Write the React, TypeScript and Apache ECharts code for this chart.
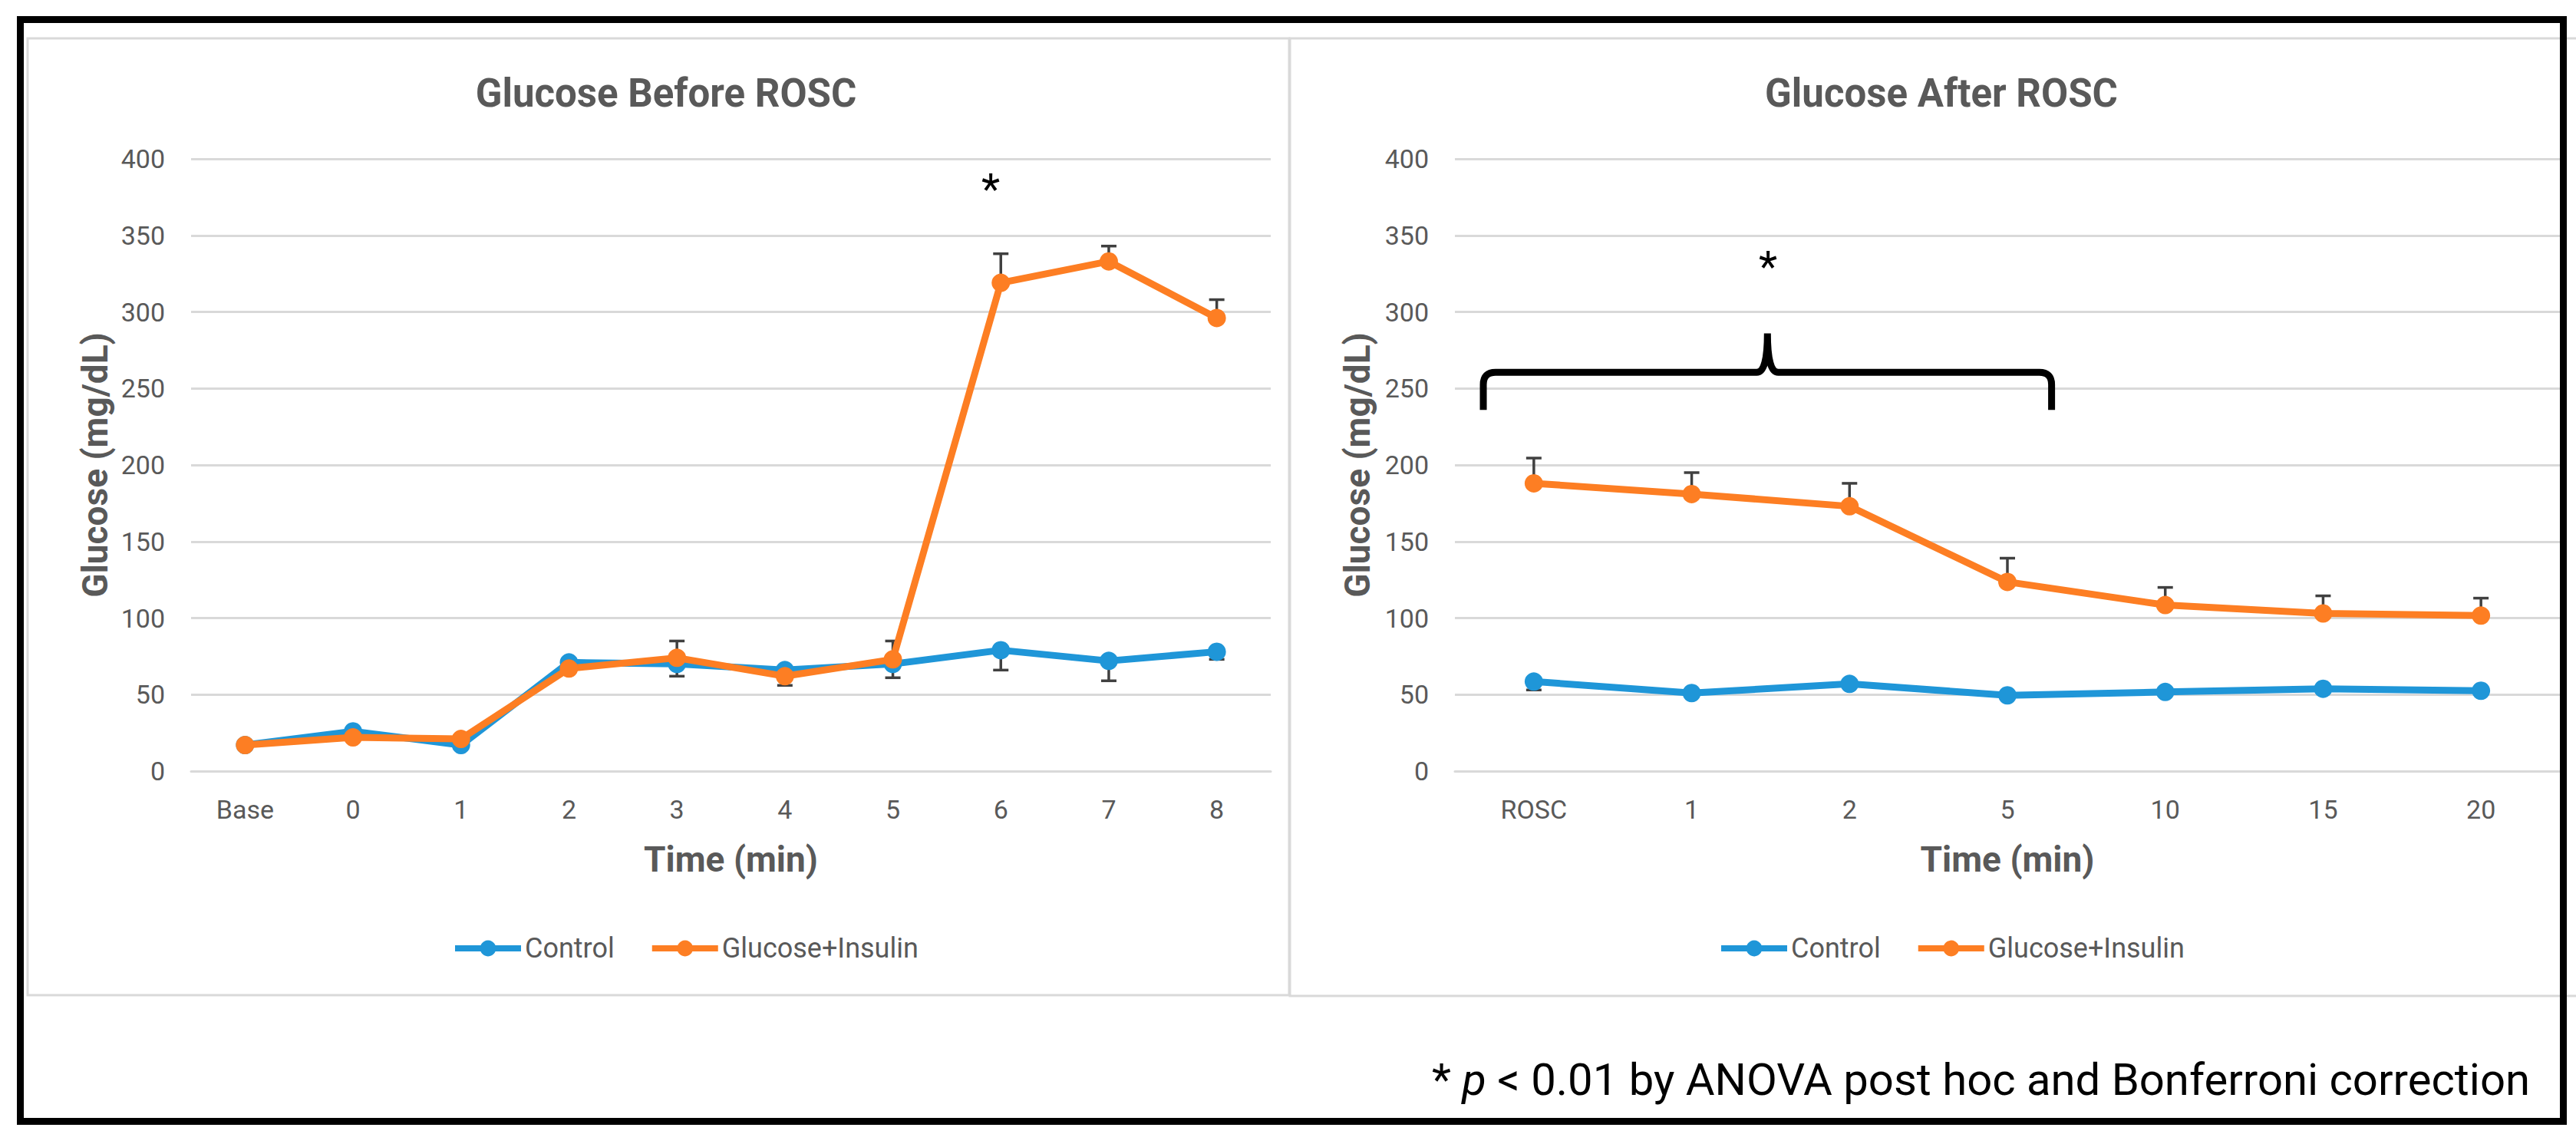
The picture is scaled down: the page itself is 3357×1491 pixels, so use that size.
import React, { useEffect, useRef } from "react";
import * as echarts from "echarts";

// ---- data ----
const beforeCats = ["Base", "0", "1", "2", "3", "4", "5", "6", "7", "8"];
const beforeControl = [17, 26, 17, 71, 70, 66, 70, 79, 72, 78];
const beforeControlErr = [2, 2, 2, 3, 8, 10, 9, 13, 13, 5];
const beforeGI = [17, 22, 21, 67, 74, 62, 73, 319, 333, 296];
const beforeGIErr = [2, 2, 2, 3, 11, 3, 12, 19, 10, 12];

const afterCats = ["ROSC", "1", "2", "5", "10", "15", "20"];
const afterControl = [58.5, 51, 57, 49.5, 51.7, 53.8, 52.5];
const afterControlErr = [5.5, 2, 2, 2, 2, 2, 2];
const afterGI = [188, 181, 173, 123.6, 108.5, 103, 101.6];
const afterGIErr = [16.5, 14, 15, 15.5, 11.5, 11.5, 11.4];

const braceX = [-0.32, 1.48, 3.28]; // left, middle, right (category index units)
const braceY = [236, 260.5, 286]; // leg bottom, bar, peak

const seriesNames = ["Control", "Glucose+Insulin"];
const titles = ["Glucose Before ROSC", "Glucose After ROSC"];
const footnote = " < 0.01 by ANOVA post hoc and Bonferroni correction";

const FONT = "'Roboto', sans-serif";
const GRAY = "#595959";
const GRID = "#d9d9d9";
const BLUE = "#1f96d8";
const ORANGE = "#fd7e23";

function errSeries(idx: number, values: number[], errs: number[], dir: number) {
  return {
    type: "custom",
    name: "err" + idx + dir,
    xAxisIndex: idx,
    yAxisIndex: idx,
    z: 1,
    silent: true,
    data: values.map((v, i) => [i, v, errs[i]]),
    encode: { x: 0, y: 1 },
    renderItem: (params: any, api: any) => {
      const i = api.value(0);
      const v = api.value(1);
      const e = api.value(2);
      const p0 = api.coord([i, v]);
      const p1 = api.coord([i, v + dir * e]);
      const hw = 10;
      const st = { stroke: "#404040", lineWidth: 3.5 };
      return {
        type: "group",
        children: [
          { type: "line", shape: { x1: p0[0], y1: p0[1], x2: p1[0], y2: p1[1] }, style: st },
          { type: "line", shape: { x1: p1[0] - hw, y1: p1[1], x2: p1[0] + hw, y2: p1[1] }, style: st },
        ],
      };
    },
  };
}

function lineSeries(idx: number, name: string, data: number[], color: string, z: number) {
  return {
    type: "line",
    name,
    xAxisIndex: idx,
    yAxisIndex: idx,
    data,
    z,
    symbol: "circle",
    symbolSize: 24,
    lineStyle: { color, width: 9 },
    itemStyle: { color },
  };
}

export default function App() {
  const ref = useRef<HTMLDivElement>(null);
  useEffect(() => {
    document.body.style.margin = "0";
    const chart = echarts.init(ref.current!, undefined, { renderer: "svg" });

    const xAxisBase = (data: string[], gridIndex: number) => ({
      type: "category",
      gridIndex,
      data,
      boundaryGap: true,
      axisTick: { show: false },
      axisLine: { show: true, lineStyle: { color: GRID, width: 3 } },
      axisLabel: { color: GRAY, fontSize: 34, fontFamily: FONT, margin: 33 },
      name: "Time (min)",
      nameLocation: "middle",
      nameGap: 92,
      nameTextStyle: { color: GRAY, fontSize: 46, fontWeight: "bold", fontFamily: FONT },
    });
    const yAxisBase = (gridIndex: number, gap: number) => ({
      type: "value",
      gridIndex,
      min: 0,
      max: 400,
      interval: 50,
      axisLine: { show: false },
      axisTick: { show: false },
      axisLabel: { color: GRAY, fontSize: 34, fontFamily: FONT, margin: 34 },
      splitLine: { lineStyle: { color: GRID, width: 3 } },
      name: "Glucose (mg/dL)",
      nameLocation: "middle",
      nameGap: gap,
      nameTextStyle: { color: GRAY, fontSize: 46, fontWeight: "bold", fontFamily: FONT },
    });

    const braceSeries = {
      type: "custom",
      name: "brace",
      xAxisIndex: 1,
      yAxisIndex: 1,
      silent: true,
      z: 5,
      data: [[0, 0]],
      renderItem: (params: any, api: any) => {
        const a = api.coord([0, braceY[0]]);
        const b = api.coord([1, braceY[1]]);
        const c = api.coord([0, braceY[2]]);
        const step = b[0] - a[0];
        const xl = a[0] + braceX[0] * step;
        const xm = a[0] + braceX[1] * step;
        const xr = a[0] + braceX[2] * step;
        const yb = a[1];
        const yBar = b[1];
        const yPk = c[1];
        const r = 16;
        const r2 = 14;
        const d =
          `M${xl} ${yb} L${xl} ${yBar + r} Q${xl} ${yBar} ${xl + r} ${yBar} ` +
          `L${xm - r2} ${yBar} Q${xm} ${yBar} ${xm} ${yPk} Q${xm} ${yBar} ${xm + r2} ${yBar} ` +
          `L${xr - r} ${yBar} Q${xr} ${yBar} ${xr} ${yBar + r} L${xr} ${yb}`;
        return {
          type: "path",
          shape: { pathData: d },
          style: { stroke: "#000", fill: "none", lineWidth: 9 },
        };
      },
    };

    const legendBase = (left: number) => ({
      data: seriesNames,
      left,
      top: 1218,
      itemWidth: 86,
      itemHeight: 26,
      itemGap: 45,
      padding: 0,
      lineStyle: { width: 8 },
      textStyle: { color: GRAY, fontSize: 36, fontFamily: FONT },
    });

    const option: any = {
      animation: false,
      backgroundColor: "#fff",
      grid: [
        { left: 249, top: 207, width: 1407, height: 798, containLabel: false },
        { left: 1896, top: 207, width: 1440, height: 798, containLabel: false },
      ],
      xAxis: [xAxisBase(beforeCats, 0), xAxisBase(afterCats, 1)],
      yAxis: [yAxisBase(0, 102), yAxisBase(1, 104)],
      legend: [legendBase(589), legendBase(2239)],
      series: [
        errSeries(0, beforeControl, beforeControlErr, -1),
        errSeries(0, beforeGI, beforeGIErr, 1),
        lineSeries(0, seriesNames[0], beforeControl, BLUE, 3),
        lineSeries(0, seriesNames[1], beforeGI, ORANGE, 4),
        errSeries(1, afterControl, afterControlErr, -1),
        errSeries(1, afterGI, afterGIErr, 1),
        lineSeries(1, seriesNames[0], afterControl, BLUE, 3),
        lineSeries(1, seriesNames[1], afterGI, ORANGE, 4),
        braceSeries,
      ],
      graphic: [
        { type: "rect", z: -10, shape: { x: 36, y: 50, width: 1644, height: 1247 }, style: { fill: "none", stroke: GRID, lineWidth: 3 } },
        { type: "rect", z: -10, shape: { x: 1681, y: 50, width: 1680, height: 1248 }, style: { fill: "none", stroke: GRID, lineWidth: 3 } },
        { type: "rect", z: 100, shape: { x: 26.5, y: 25.5, width: 3314, height: 1436 }, style: { fill: "none", stroke: "#000", lineWidth: 9 } },
        { type: "text", z: 50, x: 868, y: 121, style: { text: titles[0], fill: GRAY, font: `bold 51px ${FONT}`, align: "center", verticalAlign: "middle" } },
        { type: "text", z: 50, x: 2530, y: 121, style: { text: titles[1], fill: GRAY, font: `bold 51px ${FONT}`, align: "center", verticalAlign: "middle" } },
        { type: "text", z: 50, x: 1291, y: 247, style: { text: "*", fill: "#000", font: `56px ${FONT}`, align: "center", verticalAlign: "middle" } },
        { type: "text", z: 50, x: 2304, y: 348, style: { text: "*", fill: "#000", font: `56px ${FONT}`, align: "center", verticalAlign: "middle" } },
        {
          type: "text",
          z: 50,
          x: 3297,
          y: 1407,
          style: {
            text: "{a|* }{i|p}{a|" + footnote + "}",
            align: "right",
            verticalAlign: "middle",
            rich: {
              a: { fontSize: 58, fontFamily: FONT, fill: "#000" },
              i: { fontSize: 58, fontFamily: FONT, fontStyle: "italic", fill: "#000" },
            },
          },
        },
      ],
    };
    chart.setOption(option);
    return () => chart.dispose();
  }, []);
  return <div ref={ref} style={{ width: 3357, height: 1491, overflow: "hidden" }} />;
}
